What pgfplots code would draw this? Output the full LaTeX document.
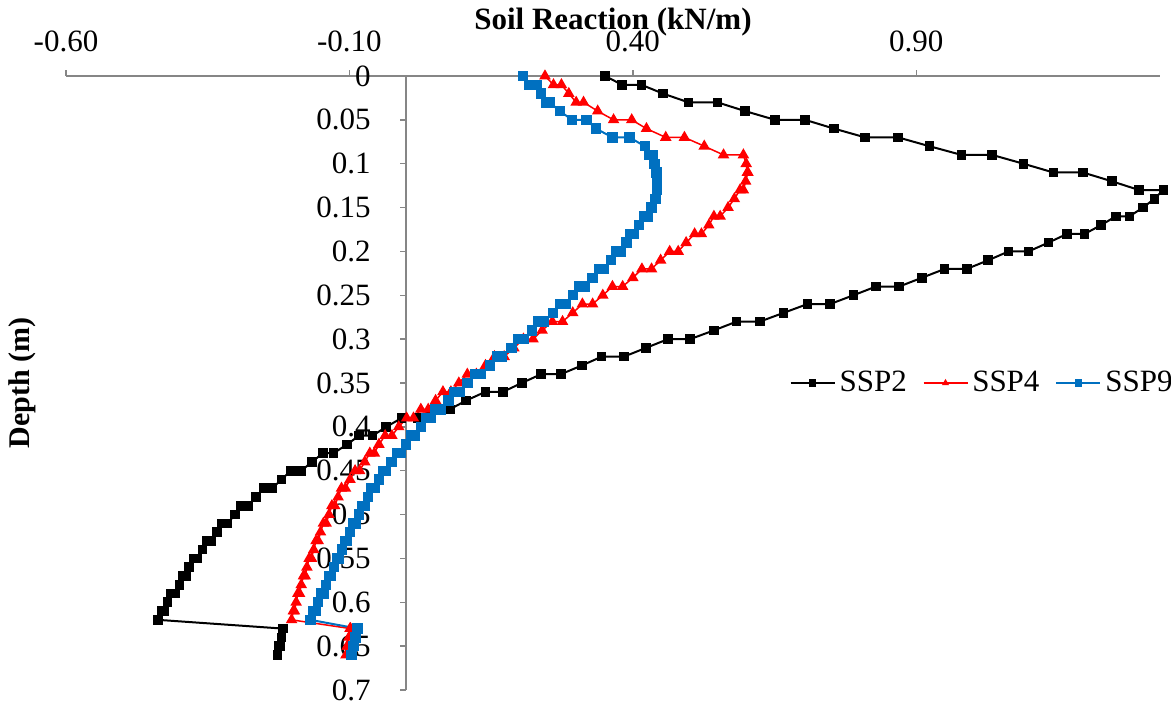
\documentclass[border=0pt]{standalone}
\usepackage{fontspec}
\setmainfont{Liberation Serif}
\usepackage{pgfplots}
\usepackage{pgfplotstable}
\pgfplotsset{compat=1.18}

\definecolor{axisgray}{RGB}{134,134,134}
\definecolor{sspred}{RGB}{255,0,0}
\definecolor{sspblue}{RGB}{0,112,192}

% Soil reaction (kN/m) along the pile, depth in m
\pgfplotstableread{
depth ssp2 ssp4 ssp9
0.00 0.351 0.245 0.206
0.01 0.381 0.260 0.218
0.01 0.415 0.274 0.230
0.02 0.453 0.287 0.238
0.03 0.498 0.300 0.247
0.03 0.549 0.313 0.253
0.04 0.598 0.338 0.271
0.05 0.651 0.366 0.293
0.05 0.704 0.398 0.318
0.06 0.755 0.424 0.335
0.07 0.810 0.458 0.364
0.07 0.868 0.491 0.394
0.08 0.923 0.526 0.421
0.09 0.980 0.560 0.429
0.09 1.034 0.595 0.435
0.10 1.089 0.600 0.438
0.11 1.142 0.602 0.441
0.11 1.194 0.603 0.442
0.12 1.245 0.599 0.443
0.13 1.293 0.595 0.443
0.13 1.336 0.589 0.443
0.14 1.320 0.579 0.440
0.15 1.300 0.568 0.433
0.16 1.276 0.554 0.426
0.16 1.252 0.543 0.420
0.17 1.226 0.534 0.411
0.18 1.197 0.521 0.402
0.18 1.166 0.509 0.395
0.19 1.133 0.494 0.389
0.20 1.098 0.480 0.378
0.20 1.063 0.465 0.370
0.21 1.027 0.449 0.361
0.22 0.989 0.433 0.349
0.22 0.950 0.416 0.340
0.23 0.910 0.400 0.329
0.24 0.870 0.382 0.315
0.24 0.829 0.364 0.306
0.25 0.789 0.347 0.294
0.26 0.748 0.329 0.281
0.26 0.708 0.311 0.272
0.27 0.666 0.294 0.259
0.28 0.624 0.276 0.243
0.28 0.583 0.258 0.233
0.29 0.543 0.240 0.222
0.30 0.501 0.224 0.207
0.30 0.462 0.207 0.198
0.31 0.423 0.190 0.186
0.32 0.384 0.173 0.169
0.32 0.345 0.156 0.160
0.33 0.310 0.140 0.148
0.34 0.273 0.124 0.132
0.34 0.238 0.108 0.122
0.35 0.204 0.093 0.108
0.36 0.171 0.079 0.095
0.36 0.140 0.065 0.085
0.37 0.106 0.052 0.075
0.38 0.077 0.039 0.062
0.38 0.048 0.026 0.052
0.39 0.020 0.013 0.043
0.39 -0.008 0.001 0.036
0.40 -0.035 -0.013 0.026
0.41 -0.059 -0.025 0.016
0.41 -0.083 -0.037 0.009
0.42 -0.104 -0.048 0.000
0.43 -0.128 -0.056 -0.010
0.43 -0.147 -0.064 -0.016
0.44 -0.166 -0.073 -0.026
0.45 -0.185 -0.082 -0.035
0.45 -0.203 -0.090 -0.041
0.46 -0.220 -0.099 -0.048
0.47 -0.236 -0.107 -0.055
0.47 -0.251 -0.114 -0.061
0.48 -0.265 -0.120 -0.067
0.49 -0.279 -0.126 -0.073
0.49 -0.292 -0.131 -0.078
0.50 -0.302 -0.136 -0.083
0.51 -0.315 -0.141 -0.089
0.51 -0.326 -0.146 -0.094
0.52 -0.334 -0.151 -0.099
0.53 -0.344 -0.155 -0.104
0.53 -0.352 -0.159 -0.108
0.54 -0.359 -0.163 -0.113
0.55 -0.368 -0.167 -0.118
0.55 -0.375 -0.171 -0.122
0.56 -0.383 -0.175 -0.127
0.57 -0.388 -0.178 -0.132
0.57 -0.394 -0.181 -0.136
0.58 -0.400 -0.185 -0.141
0.59 -0.408 -0.188 -0.146
0.59 -0.415 -0.191 -0.150
0.60 -0.421 -0.194 -0.155
0.61 -0.427 -0.197 -0.160
0.61 -0.431 -0.199 -0.164
0.62 -0.438 -0.202 -0.169
0.63 -0.217 -0.098 -0.085
0.63 -0.218 -0.099 -0.087
0.64 -0.220 -0.101 -0.089
0.65 -0.223 -0.103 -0.092
0.65 -0.224 -0.104 -0.094
0.66 -0.227 -0.106 -0.096
}\soildata

\begin{document}
\begin{tikzpicture}
\begin{axis}[
  scale only axis, width=547pt, height=307pt,
  xmin=-0.6, xmax=1.33, ymin=0, ymax=0.7,
  y dir=reverse,
  axis x line=top, axis y line=middle,
  hide obscured x ticks=false, hide obscured y ticks=false,
  axis line style={draw=axisgray, line width=0.75pt, -},
  every inner y axis line/.append style={-},
  every outer x axis line/.append style={-},
  xtick={-0.6,-0.1,0.4,0.9},
  xticklabels={-0.60,-0.10,0.40,0.90},
  ytick={0,0.05,0.1,0.15,0.2,0.25,0.3,0.35,0.4,0.45,0.5,0.55,0.6,0.65,0.7},
  yticklabels={0,0.05,0.1,0.15,0.2,0.25,0.3,0.35,0.4,0.45,0.5,0.55,0.6,0.65,0.7},
  tick style={draw=axisgray, line width=0.75pt},
  major tick length=3pt,
  tick align=outside,
  tick label style={font=\fontsize{15.5}{18}\selectfont, inner sep=0pt},
  xticklabel style={anchor=base, yshift=9.5pt},
  yticklabel style={anchor=east, xshift=-14.5pt},
  clip=false,
  legend style={at={(0.661,0.5)}, anchor=west, draw=none, fill=none,
    inner sep=0pt, font=\fontsize{15.5}{18}\selectfont,
    /tikz/every even column/.append style={column sep=6pt}},
  legend columns=3,
  legend cell align=left,
  legend image code/.code={\draw[mark repeat=2,mark phase=2,#1]
    plot coordinates {(0pt,0pt) (11pt,0pt) (22pt,0pt)};},
  legend image post style={mark size=1.3pt},
]
\addplot[black, line width=1pt, mark=square*, mark size=1.9pt]
  table[x=ssp2, y=depth] {\soildata};
\addlegendentry{SSP2}
\addplot[sspred, line width=0.75pt, mark=triangle*, mark size=2.6pt]
  table[x=ssp4, y=depth] {\soildata};
\addlegendentry{SSP4}
\addplot[sspblue, line width=1pt, mark=square*, mark size=2.1pt]
  table[x=ssp9, y=depth] {\soildata};
\addlegendentry{SSP9}
\end{axis}
\node[anchor=base, font=\fontsize{15.5}{18}\bfseries]
  at ([yshift=23pt]current axis.north) {Soil Reaction (kN/m)};
\node[rotate=90, font=\fontsize{15}{18}\bfseries]
  at ([xshift=-22pt]current axis.west) {Depth (m)};
\pgfresetboundingbox
\path[use as bounding box] ([xshift=-33pt,yshift=-8pt]current axis.south west)
  rectangle ([xshift=5.5pt,yshift=38pt]current axis.north east);
\end{tikzpicture}
\end{document}
